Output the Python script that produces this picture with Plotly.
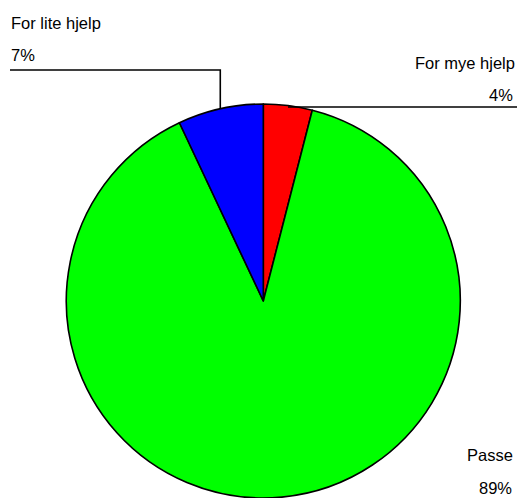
import math
import plotly.graph_objects as go

# Slice data, clockwise from 12 o'clock
labels = ["For mye hjelp", "Passe", "For lite hjelp"]
values = [4, 89, 7]
pct_text = ["4%", "89%", "7%"]
colors = ["#FF0000", "#00FF00", "#0000FF"]

W, H = 517, 498
CX, CY, R = 263.3, 301.2, 197.2  # pie centre and radius in pixels

def px(x):
    return x / W

def py(y):
    return 1 - y / H

fig = go.Figure(go.Pie(
    labels=labels,
    values=values,
    sort=False,
    direction="clockwise",
    rotation=0,
    textinfo="none",
    hoverinfo="label+percent",
    marker=dict(colors=colors, line=dict(color="#000000", width=1.6)),
    domain=dict(x=[px(CX - R), px(CX + R)], y=[max(0, py(CY + R)), py(CY - R)]),
    showlegend=False,
))

# Mid-angle of each slice (degrees clockwise from top) for leader anchors
total = sum(values)
mids = []
acc = 0.0
for v in values:
    mids.append((acc + v / 2) / total * 360.0)
    acc += v

def edge_point(angle_deg):
    a = math.radians(angle_deg)
    return CX + R * math.sin(a), CY - R * math.cos(a)

font = dict(family="Liberation Sans, Arial, sans-serif", size=16.5, color="#000000")
line_style = dict(color="#000000", width=1.6)
shapes = []
annotations = []

# For lite hjelp: label top-left, elbow leader down to slice
lx, ly = edge_point(mids[2])
shapes.append(dict(type="path", xref="paper", yref="paper", line=line_style,
                   path=f"M {px(10)},{py(70)} L {px(lx)},{py(70)} L {px(lx)},{py(ly)}"))
annotations.append(dict(text=labels[2], x=px(9), y=py(23), xanchor="left", yanchor="middle"))
annotations.append(dict(text=pct_text[2], x=px(9), y=py(54.5), xanchor="left", yanchor="middle"))

# For mye hjelp: label top-right, horizontal leader from slice
mx, my = edge_point(mids[0])
shapes.append(dict(type="line", xref="paper", yref="paper", line=line_style,
                   x0=px(mx), y0=py(107), x1=1, y1=py(107)))
annotations.append(dict(text=labels[0], x=px(517), y=py(63), xanchor="right", yanchor="middle"))
annotations.append(dict(text=pct_text[0], x=px(515), y=py(94.5), xanchor="right", yanchor="middle"))

# Passe: label bottom-right
annotations.append(dict(text=labels[1], x=px(515), y=py(454.5), xanchor="right", yanchor="middle"))
annotations.append(dict(text=pct_text[1], x=px(514), y=py(488), xanchor="right", yanchor="middle"))

for a in annotations:
    a.update(xref="paper", yref="paper", showarrow=False, font=font)

fig.update_layout(
    width=W, height=H,
    margin=dict(l=0, r=0, t=0, b=0),
    paper_bgcolor="#FFFFFF",
    plot_bgcolor="#FFFFFF",
    shapes=shapes,
    annotations=annotations,
)

fig.write_html("out.html")
